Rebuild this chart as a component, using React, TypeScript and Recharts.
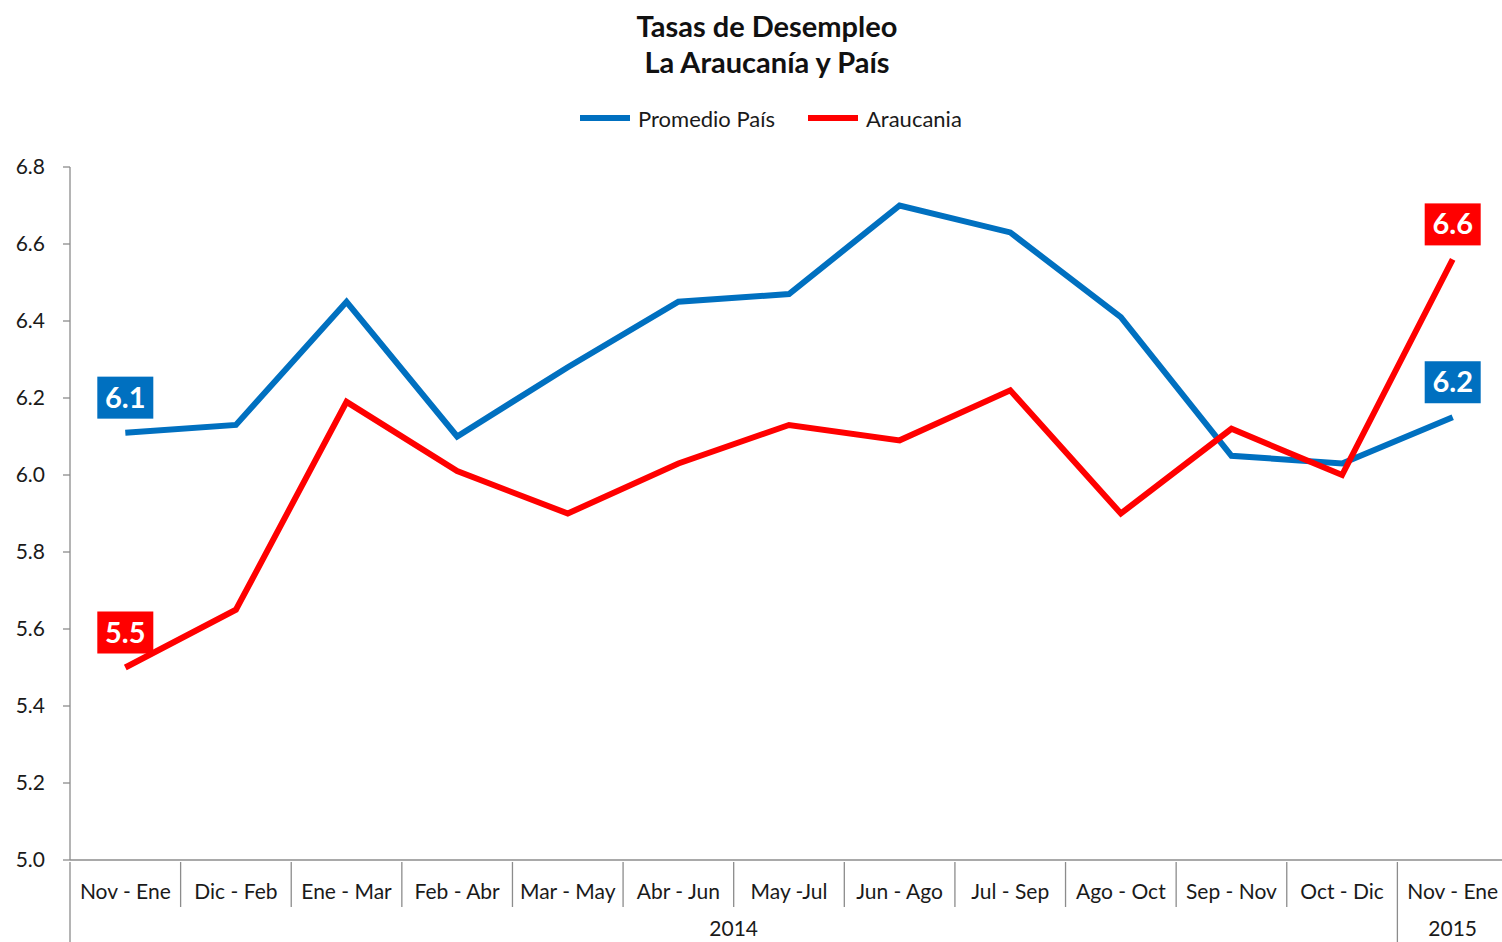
import React from "react";
import { LineChart, Line, XAxis, YAxis, LabelList } from "recharts";

const categories = [
  "Nov - Ene", "Dic - Feb", "Ene - Mar", "Feb - Abr", "Mar - May", "Abr - Jun",
  "May -Jul", "Jun - Ago", "Jul - Sep", "Ago - Oct", "Sep - Nov", "Oct - Dic", "Nov - Ene",
];
const promedioPais = [6.11, 6.13, 6.45, 6.10, 6.28, 6.45, 6.47, 6.70, 6.63, 6.41, 6.05, 6.03, 6.15];
const araucania = [5.50, 5.65, 6.19, 6.01, 5.90, 6.03, 6.13, 6.09, 6.22, 5.90, 6.12, 6.00, 6.56];
const yTicks = [5.0, 5.2, 5.4, 5.6, 5.8, 6.0, 6.2, 6.4, 6.6, 6.8];
const yearGroups = [
  { label: "2014", first: 0, last: 11 },
  { label: "2015", first: 12, last: 12 },
];

const BLUE = "#0070C0";
const RED = "#FF0000";
const AXIS = "#8c8c8c";
const FONT = "Lato, 'Open Sans', sans-serif";

const W = 1510;
const H = 942;
const M = { top: 167, right: 2, left: 0, bottom: 0 };
const Y_AXIS_W = 70;
const X_AXIS_H = H - 860;
const PLOT_W = W - M.left - M.right - Y_AXIS_W;
const BW = PLOT_W / categories.length;

const data = categories.map((c, i) => ({
  key: i,
  name: c,
  pais: promedioPais[i],
  arau: araucania[i],
}));

const XTick = (props: any) => {
  const { x, y, index } = props;
  const i = typeof index === "number" ? index : props.payload?.index ?? 0;
  const left = x - BW / 2;
  const els: React.ReactNode[] = [];
  const isGroupStart = yearGroups.some((g) => g.first === i);
  els.push(
    <line key="sep" x1={left} x2={left} y1={y} y2={isGroupStart ? y + 82 : y + 45} stroke={AXIS} strokeWidth={1.3} />
  );
  els.push(
    <text key="t" x={x} y={y + 37} textAnchor="middle" fontSize={21} fill="#1a1a1a" fontFamily={FONT}>
      {categories[i]}
    </text>
  );
  yearGroups.forEach((g) => {
    const mid = (g.first + g.last) / 2;
    if (Math.floor(mid) === i) {
      const cx = x + (mid - i) * BW;
      els.push(
        <text key={"y" + g.label} x={cx} y={y + 74} textAnchor="middle" fontSize={21} fill="#1a1a1a" fontFamily={FONT}>
          {g.label}
        </text>
      );
    }
  });
  return <g>{els}</g>;
};

const makeLabel = (color: string) => (props: any) => {
  const { x, y, index, value } = props;
  if (index !== 0 && index !== categories.length - 1) return null;
  const bw = 56;
  const bh = 42;
  return (
    <g>
      <rect x={x - bw / 2} y={y - 14 - bh} width={bw} height={bh} fill={color} />
      <text x={x} y={y - 14 - bh / 2 + 10} textAnchor="middle" fontSize={29} fontWeight="bold" fill="#fff" fontFamily={FONT}>
        {Number(value).toFixed(1)}
      </text>
    </g>
  );
};

const legendItems = [
  { name: "Promedio País", color: BLUE, x: 580 },
  { name: "Araucania", color: RED, x: 808 },
];

export default function App() {
  return (
    <div style={{ position: "absolute", left: 0, top: 0, width: 1502, height: 942, overflow: "hidden", background: "#fff", fontFamily: FONT }}>
      <div style={{ position: "absolute", left: 517, width: 500, top: 8, textAlign: "center", fontSize: 29, fontWeight: "bold", lineHeight: "36px", color: "#111" }}>
        <div>Tasas de Desempleo</div>
        <div>La Araucanía y País</div>
      </div>
      {legendItems.map((l) => (
        <div key={l.name} style={{ position: "absolute", left: l.x, top: 104, height: 28, display: "flex", alignItems: "center" }}>
          <div style={{ width: 50, height: 6, background: l.color, marginRight: 8 }} />
          <span style={{ fontSize: 22, color: "#1a1a1a" }}>{l.name}</span>
        </div>
      ))}
      <div style={{ position: "absolute", left: 0, top: 0 }}>
        <LineChart width={W} height={H} data={data} margin={M}>
          <XAxis
            dataKey="key"
            type="category"
            height={X_AXIS_H}
            tick={<XTick />}
            tickLine={false}
            tickSize={0}
            axisLine={{ stroke: AXIS, strokeWidth: 1.3 }}
            interval={0}
            padding={{ left: BW / 2, right: BW / 2 }}
          />
          <YAxis
            width={Y_AXIS_W}
            domain={[5, 6.8]}
            ticks={yTicks}
            tickFormatter={(v: number) => v.toFixed(1)}
            tick={{ fontSize: 21, fill: "#1a1a1a", fontFamily: FONT }}
            tickSize={7}
            tickMargin={18}
            tickLine={{ stroke: AXIS, strokeWidth: 1.3 }}
            axisLine={{ stroke: AXIS, strokeWidth: 1.3 }}
            allowDataOverflow
          />
          <Line dataKey="pais" stroke={BLUE} strokeWidth={6} dot={false} isAnimationActive={false} strokeLinejoin="miter">
            <LabelList dataKey="pais" content={makeLabel(BLUE)} />
          </Line>
          <Line dataKey="arau" stroke={RED} strokeWidth={6} dot={false} isAnimationActive={false} strokeLinejoin="miter">
            <LabelList dataKey="arau" content={makeLabel(RED)} />
          </Line>
        </LineChart>
      </div>
    </div>
  );
}
